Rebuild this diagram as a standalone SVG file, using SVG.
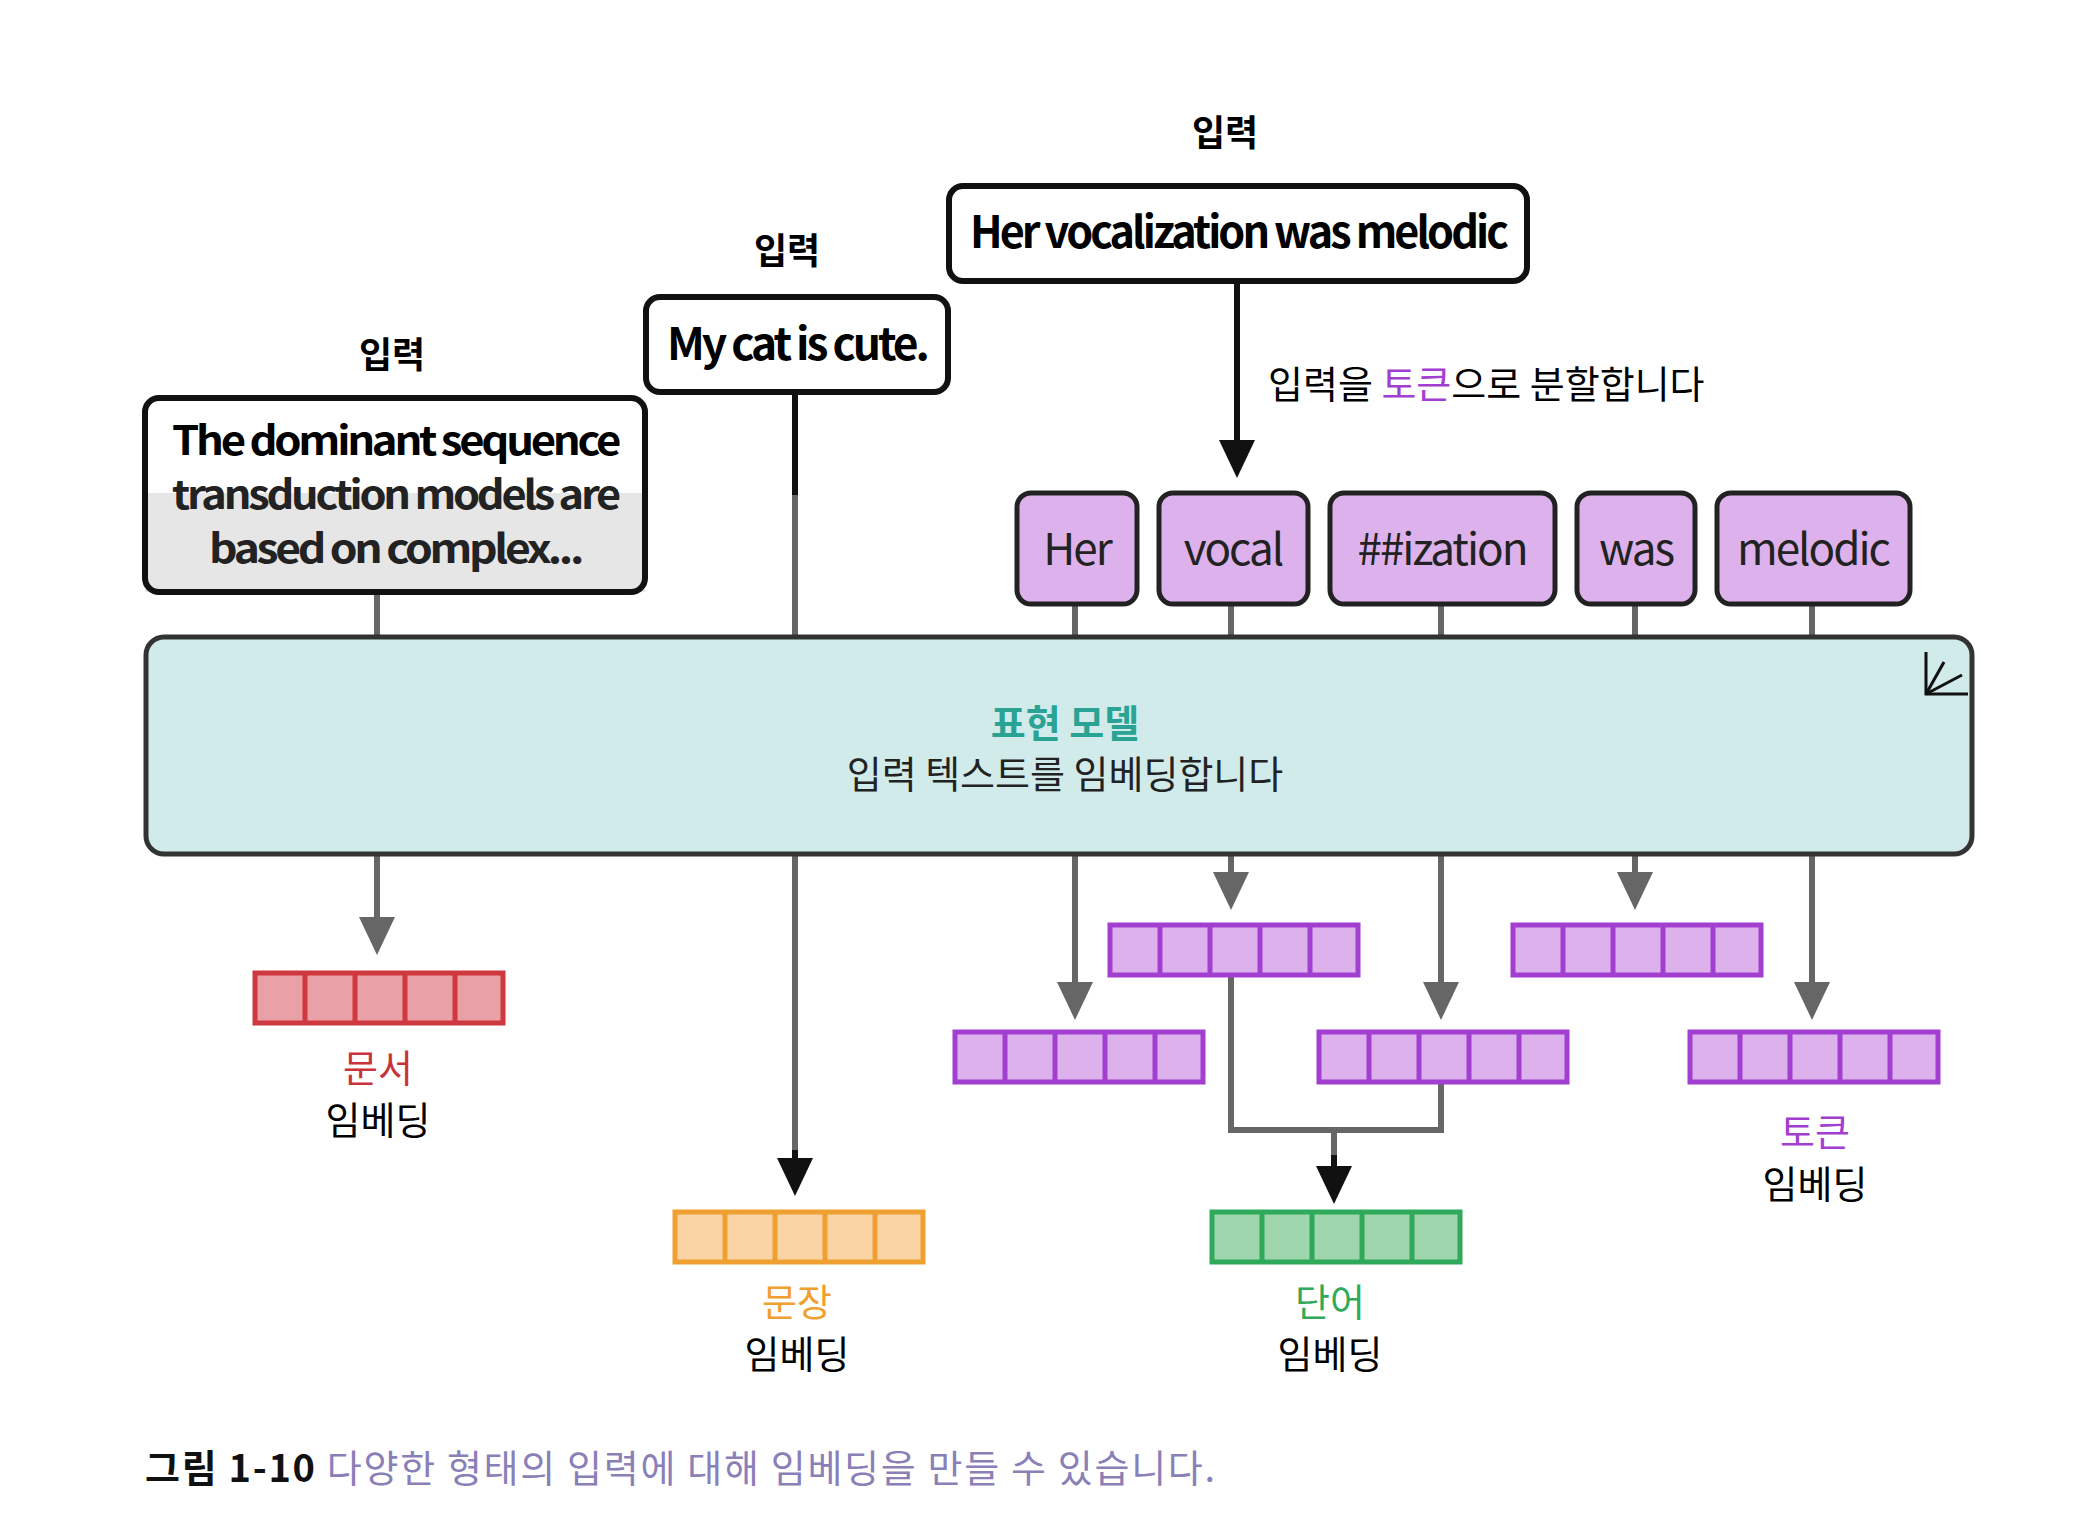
<svg xmlns="http://www.w3.org/2000/svg" width="2094" height="1530" viewBox="0 0 2094 1530">
<defs>
<style>
text{font-family:"Noto Sans CJK KR","Liberation Sans",sans-serif}
.in{font-weight:bold;font-size:36px;text-anchor:middle}
.bx{fill:#fff;stroke:#111;stroke-width:6}
.tt{font-size:44px;font-weight:bold;text-anchor:middle;letter-spacing:-3px}
.dt{font-size:40px;font-weight:bold;text-anchor:middle;letter-spacing:-3px}
.tok{fill:#ddb2ec;stroke:#222;stroke-width:5}
.tk{font-size:44px;text-anchor:middle;letter-spacing:-2px;fill:#222}
.g{stroke:#666;stroke-width:6;fill:none}
.k{stroke:#111;stroke-width:6;fill:none}
.ahg{fill:#666}
.ahk{fill:#111}
.lab{font-size:38px;text-anchor:middle}
.pv{fill:#ddb2ec;stroke:#a23fd0;stroke-width:5}
</style>
<path id="ah" d="M-18,-38 L18,-38 L0,0 Z"/>
</defs>

<g id="connectors">
<line class="g" x1="377" y1="592" x2="377" y2="636"/>
<line class="k" x1="795" y1="392" x2="795" y2="495"/>
<line class="g" x1="795" y1="495" x2="795" y2="636"/>
<line class="k" x1="1237" y1="281" x2="1237" y2="445"/>
<use href="#ah" class="ahk" x="1237" y="478"/>
<line class="g" x1="1075" y1="604" x2="1075" y2="636"/>
<line class="g" x1="1231" y1="604" x2="1231" y2="636"/>
<line class="g" x1="1441" y1="604" x2="1441" y2="636"/>
<line class="g" x1="1635" y1="604" x2="1635" y2="636"/>
<line class="g" x1="1812" y1="604" x2="1812" y2="636"/>
<line class="g" x1="377" y1="855" x2="377" y2="920"/><use href="#ah" class="ahg" x="377" y="955"/>
<line class="g" x1="795" y1="855" x2="795" y2="1160"/>
<line class="k" x1="795" y1="1150" x2="795" y2="1165"/><use href="#ah" class="ahk" x="795" y="1196"/>
<line class="g" x1="1075" y1="855" x2="1075" y2="985"/><use href="#ah" class="ahg" x="1075" y="1020"/>
<line class="g" x1="1231" y1="855" x2="1231" y2="875"/><use href="#ah" class="ahg" x="1231" y="910"/>
<line class="g" x1="1441" y1="855" x2="1441" y2="985"/><use href="#ah" class="ahg" x="1441" y="1020"/>
<line class="g" x1="1635" y1="855" x2="1635" y2="875"/><use href="#ah" class="ahg" x="1635" y="910"/>
<line class="g" x1="1812" y1="855" x2="1812" y2="985"/><use href="#ah" class="ahg" x="1812" y="1020"/>
<polyline class="g" points="1231,976 1231,1130 1441,1130 1441,1084"/>
<line class="g" x1="1334" y1="1130" x2="1334" y2="1160"/>
<line class="k" x1="1334" y1="1155" x2="1334" y2="1170"/><use href="#ah" class="ahk" x="1334" y="1204"/>
</g>

<g id="doc-input">
<text class="in" x="392" y="368">입력</text>
<rect x="145" y="398" width="500" height="194" rx="14" fill="#fff"/>
<rect x="145" y="493" width="500" height="99" fill="#e6e6e6"/>
<rect x="145" y="398" width="500" height="194" rx="14" fill="none" stroke="#111" stroke-width="6"/>
<text class="dt" x="395" y="455" textLength="446" lengthAdjust="spacingAndGlyphs">The dominant sequence</text>
<text class="dt" x="395" y="509" textLength="446" lengthAdjust="spacingAndGlyphs" font-weight="normal" fill="#222">transduction models are</text>
<text class="dt" x="395" y="563" textLength="372" lengthAdjust="spacingAndGlyphs" font-weight="normal" fill="#222">based on complex...</text>
</g>

<g id="sent-input">
<text class="in" x="787" y="264">입력</text>
<rect class="bx" x="646" y="297" width="302" height="95" rx="14"/>
<text class="tt" x="797" y="360" textLength="260" lengthAdjust="spacingAndGlyphs">My cat is cute.</text>
</g>

<g id="word-input">
<text class="in" x="1225" y="146">입력</text>
<rect class="bx" x="949" y="186" width="578" height="95" rx="14"/>
<text class="tt" x="1238" y="248" textLength="536" lengthAdjust="spacingAndGlyphs">Her vocalization was melodic</text>
<text x="1268" y="398" font-size="38px">입력을 <tspan fill="#a23fd0">토큰</tspan>으로 분할합니다</text>
</g>

<g id="tokens">
<rect class="tok" x="1017" y="493" width="120" height="111" rx="14"/><text class="tk" x="1077" y="565">Her</text>
<rect class="tok" x="1159" y="493" width="149" height="111" rx="14"/><text class="tk" x="1233" y="565">vocal</text>
<rect class="tok" x="1330" y="493" width="225" height="111" rx="14"/><text class="tk" x="1442" y="565">##ization</text>
<rect class="tok" x="1577" y="493" width="118" height="111" rx="14"/><text class="tk" x="1636" y="565">was</text>
<rect class="tok" x="1717" y="493" width="193" height="111" rx="14"/><text class="tk" x="1813" y="565">melodic</text>
</g>

<g id="model">
<rect x="146" y="637" width="1826" height="217" rx="18" fill="#d1ebeb" stroke="#333" stroke-width="5"/>
<text x="1065" y="737" font-size="38px" font-weight="bold" fill="#2aa394" text-anchor="middle">표현 모델</text>
<text x="1065" y="788" font-size="38px" fill="#222" text-anchor="middle">입력 텍스트를 임베딩합니다</text>
<g stroke="#111" stroke-width="3" fill="none">
<polyline points="1926,652 1926,694 1968,694"/>
<line x1="1926" y1="694" x2="1944" y2="662"/>
<line x1="1926" y1="694" x2="1962" y2="675"/>
</g>
</g>

<g id="doc-emb">
<rect x="255" y="973" width="248" height="50" fill="#e9a0a6" stroke="#d0383f" stroke-width="5"/>
<path d="M305,973V1023M355,973V1023M405,973V1023M455,973V1023" stroke="#d0383f" stroke-width="5"/>
<text class="lab" x="378" y="1082" fill="#c8343c">문서</text>
<text class="lab" x="378" y="1134">임베딩</text>
</g>

<g id="sent-emb">
<rect x="675" y="1212" width="248" height="50" fill="#fbd4a6" stroke="#f0a030" stroke-width="5"/>
<path d="M725,1212V1262M775,1212V1262M825,1212V1262M875,1212V1262" stroke="#f0a030" stroke-width="5"/>
<text class="lab" x="797" y="1316" fill="#f0a030">문장</text>
<text class="lab" x="797" y="1368">임베딩</text>
</g>

<g id="word-emb">
<rect x="1212" y="1212" width="248" height="50" fill="#9fd6ad" stroke="#2faa5a" stroke-width="5"/>
<path d="M1262,1212V1262M1312,1212V1262M1362,1212V1262M1412,1212V1262" stroke="#2faa5a" stroke-width="5"/>
<text class="lab" x="1330" y="1316" fill="#2faa5a">단어</text>
<text class="lab" x="1330" y="1368">임베딩</text>
</g>

<g id="token-emb">
<rect class="pv" x="1110" y="925" width="248" height="50"/><path d="M1160,925V975M1210,925V975M1260,925V975M1310,925V975" stroke="#a23fd0" stroke-width="5"/>
<rect class="pv" x="1513" y="925" width="248" height="50"/><path d="M1563,925V975M1613,925V975M1663,925V975M1713,925V975" stroke="#a23fd0" stroke-width="5"/>
<rect class="pv" x="955" y="1032" width="248" height="50"/><path d="M1005,1032V1082M1055,1032V1082M1105,1032V1082M1155,1032V1082" stroke="#a23fd0" stroke-width="5"/>
<rect class="pv" x="1319" y="1032" width="248" height="50"/><path d="M1369,1032V1082M1419,1032V1082M1469,1032V1082M1519,1032V1082" stroke="#a23fd0" stroke-width="5"/>
<rect class="pv" x="1690" y="1032" width="248" height="50"/><path d="M1740,1032V1082M1790,1032V1082M1840,1032V1082M1890,1032V1082" stroke="#a23fd0" stroke-width="5"/>
<text class="lab" x="1815" y="1146" fill="#a23fd0">토큰</text>
<text class="lab" x="1815" y="1198">임베딩</text>
</g>

<g id="caption">
<text x="145" y="1482" font-size="38px" textLength="1070" lengthAdjust="spacing"><tspan font-weight="bold" fill="#111">그림 1-10</tspan><tspan fill="#8a80b8"> 다양한 형태의 입력에 대해 임베딩을 만들 수 있습니다.</tspan></text>
</g>
</svg>
